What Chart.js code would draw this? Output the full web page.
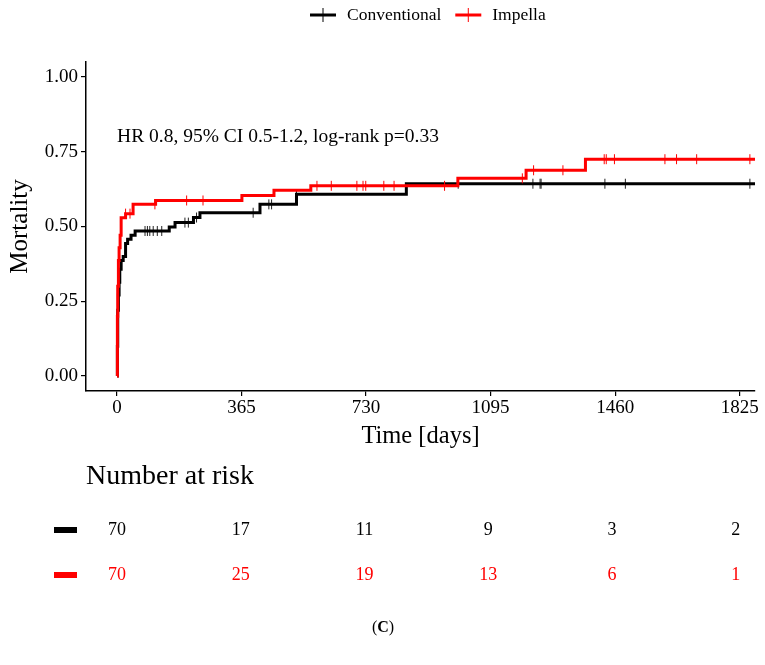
<!DOCTYPE html>
<html>
<head>
<meta charset="utf-8">
<script src="https://cdn.jsdelivr.net/npm/chart.js@4/dist/chart.umd.min.js"></script>
<style>
  body { margin: 0; background: #fff; }
  canvas { display: block; }
</style>
</head>
<body>
<canvas id="km-chart" width="765" height="665"></canvas>
<script>
'use strict';

// Kaplan-Meier curves (day, cumulative mortality)
const impDays = [0, 1, 2, 4, 6, 9, 12, 25, 47, 113, 366, 460, 568, 999, 1199, 1373, 1870];
const impMort = [0, 0.2, 0.3, 0.386, 0.429, 0.471, 0.529, 0.543, 0.574, 0.587, 0.604, 0.621, 0.636, 0.661, 0.688, 0.725, 0.725];

const convDays = [0, 1, 2, 4, 6, 8, 12, 18, 25, 31, 41, 53, 153, 170, 224, 243, 419, 526, 848, 1870];
const convMort = [0, 0.1, 0.22, 0.271, 0.314, 0.357, 0.386, 0.4, 0.443, 0.457, 0.471, 0.485, 0.498, 0.513, 0.53, 0.546, 0.574, 0.608, 0.643, 0.643];

// censored observations (days)
const impCensor = [25, 38, 111, 204, 252, 586, 628, 703, 721, 729, 782, 812, 960, 1188, 1221, 1307, 1428, 1434, 1458, 1606, 1640, 1699, 1855];
const convCensor = [82, 89, 96, 106, 118, 131, 199, 209, 233, 399, 445, 453, 526, 1000, 1219, 1240, 1243, 1430, 1490, 1855];

// number at risk table
const riskTimes = [0, 365, 730, 1095, 1460, 1825];
const riskConv = [70, 17, 11, 9, 3, 2];
const riskImp = [70, 25, 19, 13, 6, 1];

const xTicks = [0, 365, 730, 1095, 1460, 1825];
const yTicks = [0, 0.25, 0.5, 0.75, 1];

const seriesNames = ['Conventional', 'Impella'];
const seriesColors = ['#000000', '#ff0000'];
const hrText = 'HR 0.8, 95% CI 0.5-1.2, log-rank p=0.33';

const SERIF = '"Liberation Serif", "Times New Roman", serif';

const toPoints = function(days, mort) {
  let pts = [];
  for (let i = 0; i < days.length; i++) {
    pts.push({ x: days[i], y: mort[i] });
  }
  return pts;
};

// value of the step curve at a given day
const curveAt = function(days, mort, t) {
  let v = 0;
  for (let i = 0; i < days.length; i++) {
    if (days[i] <= t) {
      v = mort[i];
    }
  }
  return v;
};

const censorPoints = function(times, days, mort) {
  let pts = [];
  for (let i = 0; i < times.length; i++) {
    pts.push({ x: times[i], y: curveAt(days, mort, times[i]) });
  }
  return pts;
};

const extrasPlugin = {
  id: 'kmExtras',
  afterDraw(chart) {
    const ctx = chart.ctx;
    const xs = chart.scales.x;
    const ys = chart.scales.y;
    const area = chart.chartArea;

    ctx.save();
    ctx.fillStyle = '#000';
    ctx.textBaseline = 'middle';

    // HR annotation
    ctx.font = '19.5px ' + SERIF;
    ctx.textAlign = 'left';
    ctx.fillText(hrText, xs.getPixelForValue(0), ys.getPixelForValue(0.8));

    // legend on top
    ctx.font = '17.5px ' + SERIF;
    let lx = 310;
    const ly = 15;
    for (let i = 0; i < seriesNames.length; i++) {
      ctx.strokeStyle = seriesColors[i];
      ctx.lineWidth = 3;
      ctx.beginPath();
      ctx.moveTo(lx, ly);
      ctx.lineTo(lx + 26, ly);
      ctx.stroke();
      ctx.lineWidth = 1;
      ctx.beginPath();
      ctx.moveTo(lx + 13, ly - 7);
      ctx.lineTo(lx + 13, ly + 7);
      ctx.stroke();
      ctx.fillStyle = '#000';
      ctx.fillText(seriesNames[i], lx + 37, ly);
      lx += 37 + ctx.measureText(seriesNames[i]).width + 14;
    }

    // number at risk table
    ctx.font = '28px ' + SERIF;
    ctx.fillText('Number at risk', area.left, 477);

    const rows = [riskConv, riskImp];
    const rowY = [530, 575];
    ctx.font = '18px ' + SERIF;
    ctx.textAlign = 'center';
    for (let r = 0; r < rows.length; r++) {
      ctx.fillStyle = seriesColors[r];
      ctx.fillRect(54, rowY[r] - 3, 23, 6);
      for (let i = 0; i < riskTimes.length; i++) {
        ctx.fillText(String(rows[r][i]), xs.getPixelForValue(riskTimes[i]) - i * 0.8, rowY[r]);
      }
    }

    // panel caption
    ctx.fillStyle = '#000';
    ctx.textAlign = 'left';
    ctx.font = '16px ' + SERIF;
    const w1 = ctx.measureText('(').width;
    ctx.font = 'bold 16px ' + SERIF;
    const w2 = ctx.measureText('C').width;
    ctx.font = '16px ' + SERIF;
    const w3 = ctx.measureText(')').width;
    let cx = 383 - (w1 + w2 + w3) / 2;
    ctx.fillText('(', cx, 628);
    ctx.font = 'bold 16px ' + SERIF;
    ctx.fillText('C', cx + w1, 628);
    ctx.font = '16px ' + SERIF;
    ctx.fillText(')', cx + w1 + w2, 628);

    ctx.restore();
  }
};

const tickFont = { family: SERIF, size: 19 };

const ctx = document.getElementById('km-chart').getContext('2d');

const kmChart = new Chart(ctx, {
  data: {
    datasets: [{
      type: 'line',
      label: seriesNames[1],
      data: toPoints(impDays, impMort),
      stepped: true,
      borderColor: seriesColors[1],
      borderWidth: 3,
      pointRadius: 0,
      fill: false
    }, {
      type: 'scatter',
      label: seriesNames[1] + ' censored',
      data: censorPoints(impCensor, impDays, impMort),
      pointStyle: 'line',
      rotation: 90,
      radius: 5,
      borderWidth: 1,
      borderColor: seriesColors[1],
      backgroundColor: seriesColors[1]
    }, {
      type: 'line',
      label: seriesNames[0],
      data: toPoints(convDays, convMort),
      stepped: true,
      borderColor: seriesColors[0],
      borderWidth: 3,
      pointRadius: 0,
      fill: false
    }, {
      type: 'scatter',
      label: seriesNames[0] + ' censored',
      data: censorPoints(convCensor, convDays, convMort),
      pointStyle: 'line',
      rotation: 90,
      radius: 5,
      borderWidth: 1,
      borderColor: '#222',
      backgroundColor: '#222'
    }]
  },
  options: {
    responsive: false,
    animation: false,
    events: [],
    layout: {
      padding: { top: 62, left: 5, right: 10, bottom: 210 }
    },
    plugins: {
      legend: { display: false },
      tooltip: { enabled: false }
    },
    scales: {
      x: {
        type: 'linear',
        min: -91,
        max: 1870,
        afterBuildTicks: function(scale) {
          scale.ticks = xTicks.map(v => ({ value: v }));
        },
        afterFit: function(scale) {
          scale.height = 64;
        },
        ticks: {
          font: tickFont,
          color: '#000',
          padding: 1,
          autoSkip: false,
          maxRotation: 0,
          callback: function(v) {
            return String(v);
          }
        },
        grid: {
          drawOnChartArea: false,
          drawTicks: true,
          tickLength: 5,
          color: '#000',
          lineWidth: 1.2
        },
        border: { display: true, color: '#000', width: 1.5 },
        title: {
          display: true,
          text: 'Time [days]',
          font: { family: SERIF, size: 24.5 },
          color: '#000',
          padding: { top: 0, bottom: 4 }
        }
      },
      y: {
        type: 'linear',
        min: -0.05,
        max: 1.05,
        afterBuildTicks: function(scale) {
          scale.ticks = yTicks.map(v => ({ value: v }));
        },
        afterFit: function(scale) {
          scale.width = 81;
        },
        ticks: {
          font: tickFont,
          color: '#000',
          padding: 3,
          callback: function(v) {
            return Number(v).toFixed(2);
          }
        },
        grid: {
          drawOnChartArea: false,
          drawTicks: true,
          tickLength: 5,
          color: '#000',
          lineWidth: 1.2
        },
        border: { display: true, color: '#000', width: 1.5 },
        title: {
          display: true,
          text: 'Mortality',
          font: { family: SERIF, size: 25 },
          color: '#000',
          padding: { top: 0, bottom: 3 }
        }
      }
    }
  },
  plugins: [extrasPlugin]
});
</script>
</body>
</html>
